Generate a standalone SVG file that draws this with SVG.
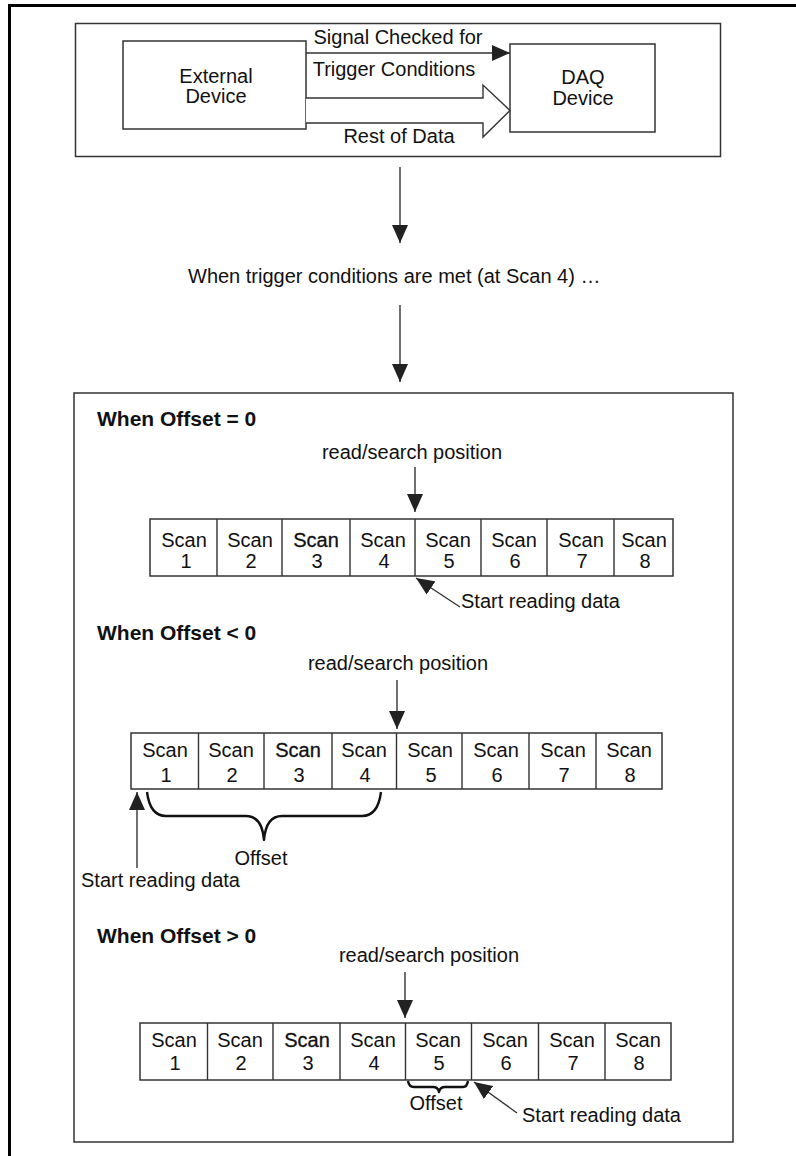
<svg xmlns="http://www.w3.org/2000/svg" width="796" height="1156" viewBox="0 0 796 1156">
<style>
text{font-family:"Liberation Sans",Arial,sans-serif;fill:#111}
.t{font-size:20px}
.h{font-size:21px;font-weight:bold}
.c{font-size:20px;text-anchor:middle}
.m{text-anchor:middle}
.bx{fill:#fff;stroke:#333;stroke-width:1.5}
.pn{fill:none;stroke:#333;stroke-width:1.5}
.ln{stroke:#333;stroke-width:1.4;fill:none}
.br{stroke:#111;stroke-width:2.4;fill:none;stroke-linejoin:round}
.s3{stroke:#111;stroke-width:0.3}
</style>
<defs>
<marker id="ah" markerWidth="18" markerHeight="16" refX="18" refY="8" orient="auto" markerUnits="userSpaceOnUse"><path d="M0,0 L18,8 L0,16 z" fill="#222"/></marker>
</defs>
<rect width="796" height="1156" fill="#fff"/>
<g id="frame">
<path d="M9.5,1156 V5.5 H796" fill="none" stroke="#000" stroke-width="3"/>
</g>
<g id="top-panel">
<rect class="pn" x="75.5" y="23.5" width="645" height="133"/>
</g>
<g id="bottom-panel">
<rect class="pn" x="74" y="393" width="659" height="749"/>
</g>
<g id="external-device">
<rect class="bx" x="123" y="41" width="183" height="88"/>
<text class="t m" x="216" y="83">External</text>
<text class="t m" x="216" y="103">Device</text>
</g>
<g id="daq-device">
<rect class="bx" x="510" y="44" width="145" height="88"/>
<text class="t m" x="583" y="84">DAQ</text>
<text class="t m" x="583" y="105">Device</text>
</g>
<g id="top-labels">
<text class="t m" x="398" y="44">Signal Checked for</text>
<text class="t m" x="394" y="76">Trigger Conditions</text>
<text class="t m" x="399" y="143">Rest of Data</text>
<text class="t" x="188" y="283">When trigger conditions are met (at Scan 4) …</text>
</g>
<g id="case-zero">
<text class="h" x="97" y="426">When Offset = 0</text>
<text class="t m" x="412" y="459">read/search position</text>
<rect class="bx" x="150" y="519" width="523" height="57"/>
<path class="ln" d="M217,519V576M282,519V576M350,519V576M415,519V576M481,519V576M547,519V576M614,519V576"/>
<text class="c" x="184" y="547">Scan</text><text class="c" x="186" y="568">1</text>
<text class="c" x="250" y="547">Scan</text><text class="c" x="251" y="568">2</text>
<text class="c s3" x="316" y="547">Scan</text><text class="c" x="317" y="568">3</text>
<text class="c" x="383" y="547">Scan</text><text class="c" x="384" y="568">4</text>
<text class="c" x="448" y="547">Scan</text><text class="c" x="449" y="568">5</text>
<text class="c" x="514" y="547">Scan</text><text class="c" x="515" y="568">6</text>
<text class="c" x="581" y="547">Scan</text><text class="c" x="582" y="568">7</text>
<text class="c" x="644" y="547">Scan</text><text class="c" x="645" y="568">8</text>
<text class="t" x="461" y="608">Start reading data</text>
</g>
<g id="case-negative">
<text class="h" x="97" y="640">When Offset &lt; 0</text>
<text class="t m" x="398" y="670">read/search position</text>
<rect class="bx" x="131" y="733" width="531" height="56"/>
<path class="ln" d="M198.5,733V789M264,733V789M332,733V789M396.5,733V789M462,733V789M529,733V789M596,733V789"/>
<text class="c" x="165" y="757">Scan</text><text class="c" x="166" y="782">1</text>
<text class="c" x="231" y="757">Scan</text><text class="c" x="232" y="782">2</text>
<text class="c s3" x="298" y="757">Scan</text><text class="c" x="299" y="782">3</text>
<text class="c" x="364" y="757">Scan</text><text class="c" x="365" y="782">4</text>
<text class="c" x="430" y="757">Scan</text><text class="c" x="431" y="782">5</text>
<text class="c" x="496" y="757">Scan</text><text class="c" x="497" y="782">6</text>
<text class="c" x="563" y="757">Scan</text><text class="c" x="564" y="782">7</text>
<text class="c" x="629" y="757">Scan</text><text class="c" x="630" y="782">8</text>
<path class="br" d="M147,792 Q150,816 166,816 H246 Q262,816 264,840 Q266,816 282,816 H362 Q378,816 381,792"/>
<text class="t m" x="261" y="865">Offset</text>
<text class="t" x="81" y="887">Start reading data</text>
</g>
<g id="case-positive">
<text class="h" x="97" y="943">When Offset &gt; 0</text>
<text class="t m" x="429" y="962">read/search position</text>
<rect class="bx" x="140" y="1023" width="531" height="57"/>
<path class="ln" d="M207.5,1023V1080M273,1023V1080M340,1023V1080M405.5,1023V1080M471.5,1023V1080M538.5,1023V1080M605,1023V1080"/>
<text class="c" x="174" y="1047">Scan</text><text class="c" x="175" y="1070">1</text>
<text class="c" x="240" y="1047">Scan</text><text class="c" x="241" y="1070">2</text>
<text class="c s3" x="307" y="1047">Scan</text><text class="c" x="308" y="1070">3</text>
<text class="c" x="373" y="1047">Scan</text><text class="c" x="374" y="1070">4</text>
<text class="c" x="438" y="1047">Scan</text><text class="c" x="439" y="1070">5</text>
<text class="c" x="505" y="1047">Scan</text><text class="c" x="506" y="1070">6</text>
<text class="c" x="572" y="1047">Scan</text><text class="c" x="573" y="1070">7</text>
<text class="c" x="638" y="1047">Scan</text><text class="c" x="639" y="1070">8</text>
<path class="br" d="M408,1081 Q409,1087 414,1087 H433 Q438,1087 439,1092 Q440,1087 445,1087 H463 Q467,1087 468,1081" stroke-width="1.6"/>
<text class="t m" x="436" y="1110">Offset</text>
<text class="t" x="522" y="1122">Start reading data</text>
</g>
<g id="connectors">
<line class="ln" x1="306" y1="53" x2="510" y2="53" marker-end="url(#ah)"/>
<path d="M306,98 H483 V85 L510,110.5 L483,137 V123 H306" fill="#fff" stroke="#333" stroke-width="1.4"/>
<line class="ln" x1="400" y1="167" x2="400" y2="243" marker-end="url(#ah)"/>
<line class="ln" x1="400" y1="305" x2="400" y2="382" marker-end="url(#ah)"/>
<line class="ln" x1="415" y1="467" x2="415" y2="512" marker-end="url(#ah)"/>
<line class="ln" x1="460" y1="607" x2="416" y2="578" marker-end="url(#ah)"/>
<line class="ln" x1="397" y1="680" x2="397" y2="729" marker-end="url(#ah)"/>
<line class="ln" x1="137" y1="868" x2="137" y2="792" marker-end="url(#ah)"/>
<line class="ln" x1="405" y1="972" x2="405" y2="1018" marker-end="url(#ah)"/>
<line class="ln" x1="517" y1="1113" x2="474" y2="1082" marker-end="url(#ah)"/>
</g>
</svg>
